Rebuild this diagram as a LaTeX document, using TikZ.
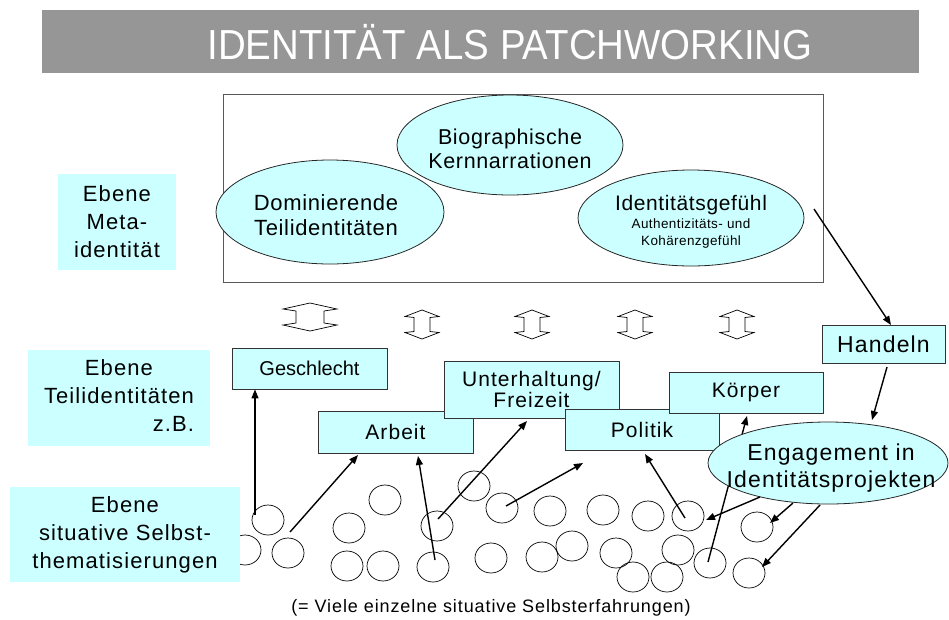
\documentclass[tikz,border=0pt]{standalone}
\usepackage{fontspec}
\setmainfont{Liberation Sans}
\newfontfamily\spaced[LetterSpace=5]{Liberation Sans}
\newfontfamily\lspaced[LetterSpace=3]{Liberation Sans}
\usetikzlibrary{arrows.meta,shapes.geometric}
\definecolor{lcyan}{HTML}{CCFFFF}
\definecolor{titlegray}{HTML}{969696}
\newcommand\fsz[2]{\fontsize{#1}{#2}\selectfont}
\begin{document}
\begin{tikzpicture}[x=1pt,y=-1pt,
  lvl/.style={fill=lcyan, inner sep=0, align=center},
  part/.style={draw=black!80, fill=lcyan, line width=0.8pt, inner sep=0, align=center},
  ell/.style={ellipse, draw=black!85, fill=lcyan, line width=0.8pt, inner sep=0},
  etext/.style={inner sep=0, align=center},
  bubble/.style={ellipse, draw, line width=0.7pt, minimum width=32, minimum height=30, inner sep=0},
  conn/.style={line width=1.4pt, -{Triangle[length=9pt,width=7pt]}},
  hollow/.style={draw, fill=white, line width=0.7pt, line join=miter}]
\useasboundingbox (0,0) rectangle (949,619);
% title
\fill[titlegray] (42,10) rectangle (919,73);
\node[text=white, font=\fsz{42}{42}, inner sep=0] (title) at (510,42) {\scalebox{0.915}[1]{IDENTITÄT ALS PATCHWORKING}};
% meta box
\node[draw=black!65, line width=1pt, minimum width=600, minimum height=188, inner sep=0] (meta) at (523,188) {};
\node[ell, minimum width=226, minimum height=100] (bio) at (510,145) {};
\node[etext, font=\lspaced\fsz{21.5}{24}] (bioT) at (510,149) {Biographische\\Kernnarrationen};
\node[ell, minimum width=228, minimum height=104] (dom) at (330,212) {};
\node[etext, font=\lspaced\fsz{22}{25}] (domT) at (326,215) {Dominierende\\Teilidentitäten};
\node[ell, minimum width=226, minimum height=96] (idg) at (691,218) {};
\node[etext, font=\lspaced\fsz{13.5}{17}] (idgT) at (691,222) {{\lspaced\fsz{21}{22}Identitätsgefühl}\\[1pt]Authentizitäts- und\\Kohärenzgefühl};
% level labels
\node[lvl, minimum width=118, minimum height=96, font=\spaced\fsz{22}{28}] (L1) at (117,222) {Ebene\\Meta-\\identität};
\node[lvl, minimum width=182, minimum height=96, font=\spaced\fsz{22}{28}] (L2) at (119,398) {\begin{tabular}{@{}c@{}}Ebene\\Teilidentitäten\\\multicolumn{1}{@{}r@{}}{z.B.}\end{tabular}};
% hollow double arrows
\begin{scope}[shift={(310,317)}]
  \draw[hollow] (0,-14) -- (-27,-8) -- (-14,-6) -- (-14,6) -- (-27,8) -- (0,14) -- (27,8) -- (14,6) -- (14,-6) -- (27,-8) -- cycle;
\end{scope}
\foreach \cx in {422,532,635,737}{
  \begin{scope}[shift={(\cx,324.5)}]
    \draw[hollow] (0,-14.5) -- (-17,-8) -- (-8,-7) -- (-8,7) -- (-17,8) -- (0,14.5) -- (17,8) -- (8,7) -- (8,-7) -- (17,-8) -- cycle;
  \end{scope}}
% bubbles
\foreach \i/\px/\py in {1/268/520,2/245/550,3/288/553,4/385/500,5/349/528,6/347/566,7/383/566,8/437/526,9/433/567,10/474/486,11/502/508,12/491/558,13/542/557,14/550/511,15/572/546,16/603/510,17/616/553,18/633/577,19/648/516,20/667/577,21/678/550,22/688/516,23/710/563,24/757/527,25/749/573}{
  \node[bubble] (c\i) at (\px,\py) {};}
\node[lvl, minimum width=230, minimum height=95, font=\spaced\fsz{22}{28}] (L3) at (125,534.5) {Ebene\\situative Selbst-\\thematisierungen};
% partial identity boxes
\node[part, minimum width=155, minimum height=41, font=\fsz{20}{22}] (ges) at (309.5,368.5) {Geschlecht};
\node[part, minimum width=155, minimum height=42, font=\spaced\fsz{21}{22}] (arb) at (395.5,432) {Arbeit};
\node[part, minimum width=175, minimum height=57, font=\spaced\fsz{21}{19}] (unt) at (531.5,389.5) {Unterhaltung/\\Freizeit};
\node[part, minimum width=154, minimum height=41, font=\spaced\fsz{21}{22}] (pol) at (642,429.5) {Politik};
\node[part, minimum width=154, minimum height=41, font=\spaced\fsz{21}{22}] (koe) at (746,392.5) {Körper};
\node[part, minimum width=123, minimum height=38, font=\spaced\fsz{23}{24}] (han) at (883.5,344) {Handeln};
% arrow anchor points
\coordinate (s1) at (255,515);
\coordinate (s2) at (290,532); \coordinate (e2) at (358,455);
\coordinate (s3) at (435,560); \coordinate (e3) at (418,456);
\coordinate (s4) at (438,519); \coordinate (e4) at (527,421);
\coordinate (s5) at (506,506); \coordinate (e5) at (583,463);
\coordinate (s6) at (685,518); \coordinate (e6) at (645,454);
\coordinate (s7) at (708,562); \coordinate (e7) at (747,416);
\coordinate (s8) at (760,497); \coordinate (e8) at (706,520);
\coordinate (s9) at (793,503); \coordinate (e9) at (770,523);
\coordinate (s10) at (820,505); \coordinate (e10) at (762,567);
\coordinate (s11) at (814,209); \coordinate (e11) at (891,325);
\coordinate (s12) at (887,367); \coordinate (e12) at (872,420);
% arrows
\draw[conn] (s1) -- (s1 |- ges.south);
\draw[conn] (s2) -- (e2);
\draw[conn] (s3) -- (e3);
\draw[conn] (s4) -- (e4);
\draw[conn] (s5) -- (e5);
\draw[conn] (s6) -- (e6);
\draw[conn] (s7) -- (e7);
\draw[conn] (s11) -- (e11);
\draw[conn] (s12) -- (e12);
\node[ell, minimum width=240, minimum height=82] (eng) at (828,463) {};
\node[etext, font=\spaced\fsz{23}{27}] (engT) at (831,468) {Engagement in\\Identitätsprojekten};
\draw[conn] (s8) -- (e8);
\draw[conn] (s9) -- (e9);
\draw[conn] (s10) -- (e10);
% footnote
\node[font=\spaced\fsz{18}{20}, anchor=base, inner sep=0] (foot) at (491,612) {(= Viele einzelne situative Selbsterfahrungen)};
\end{tikzpicture}
\end{document}
